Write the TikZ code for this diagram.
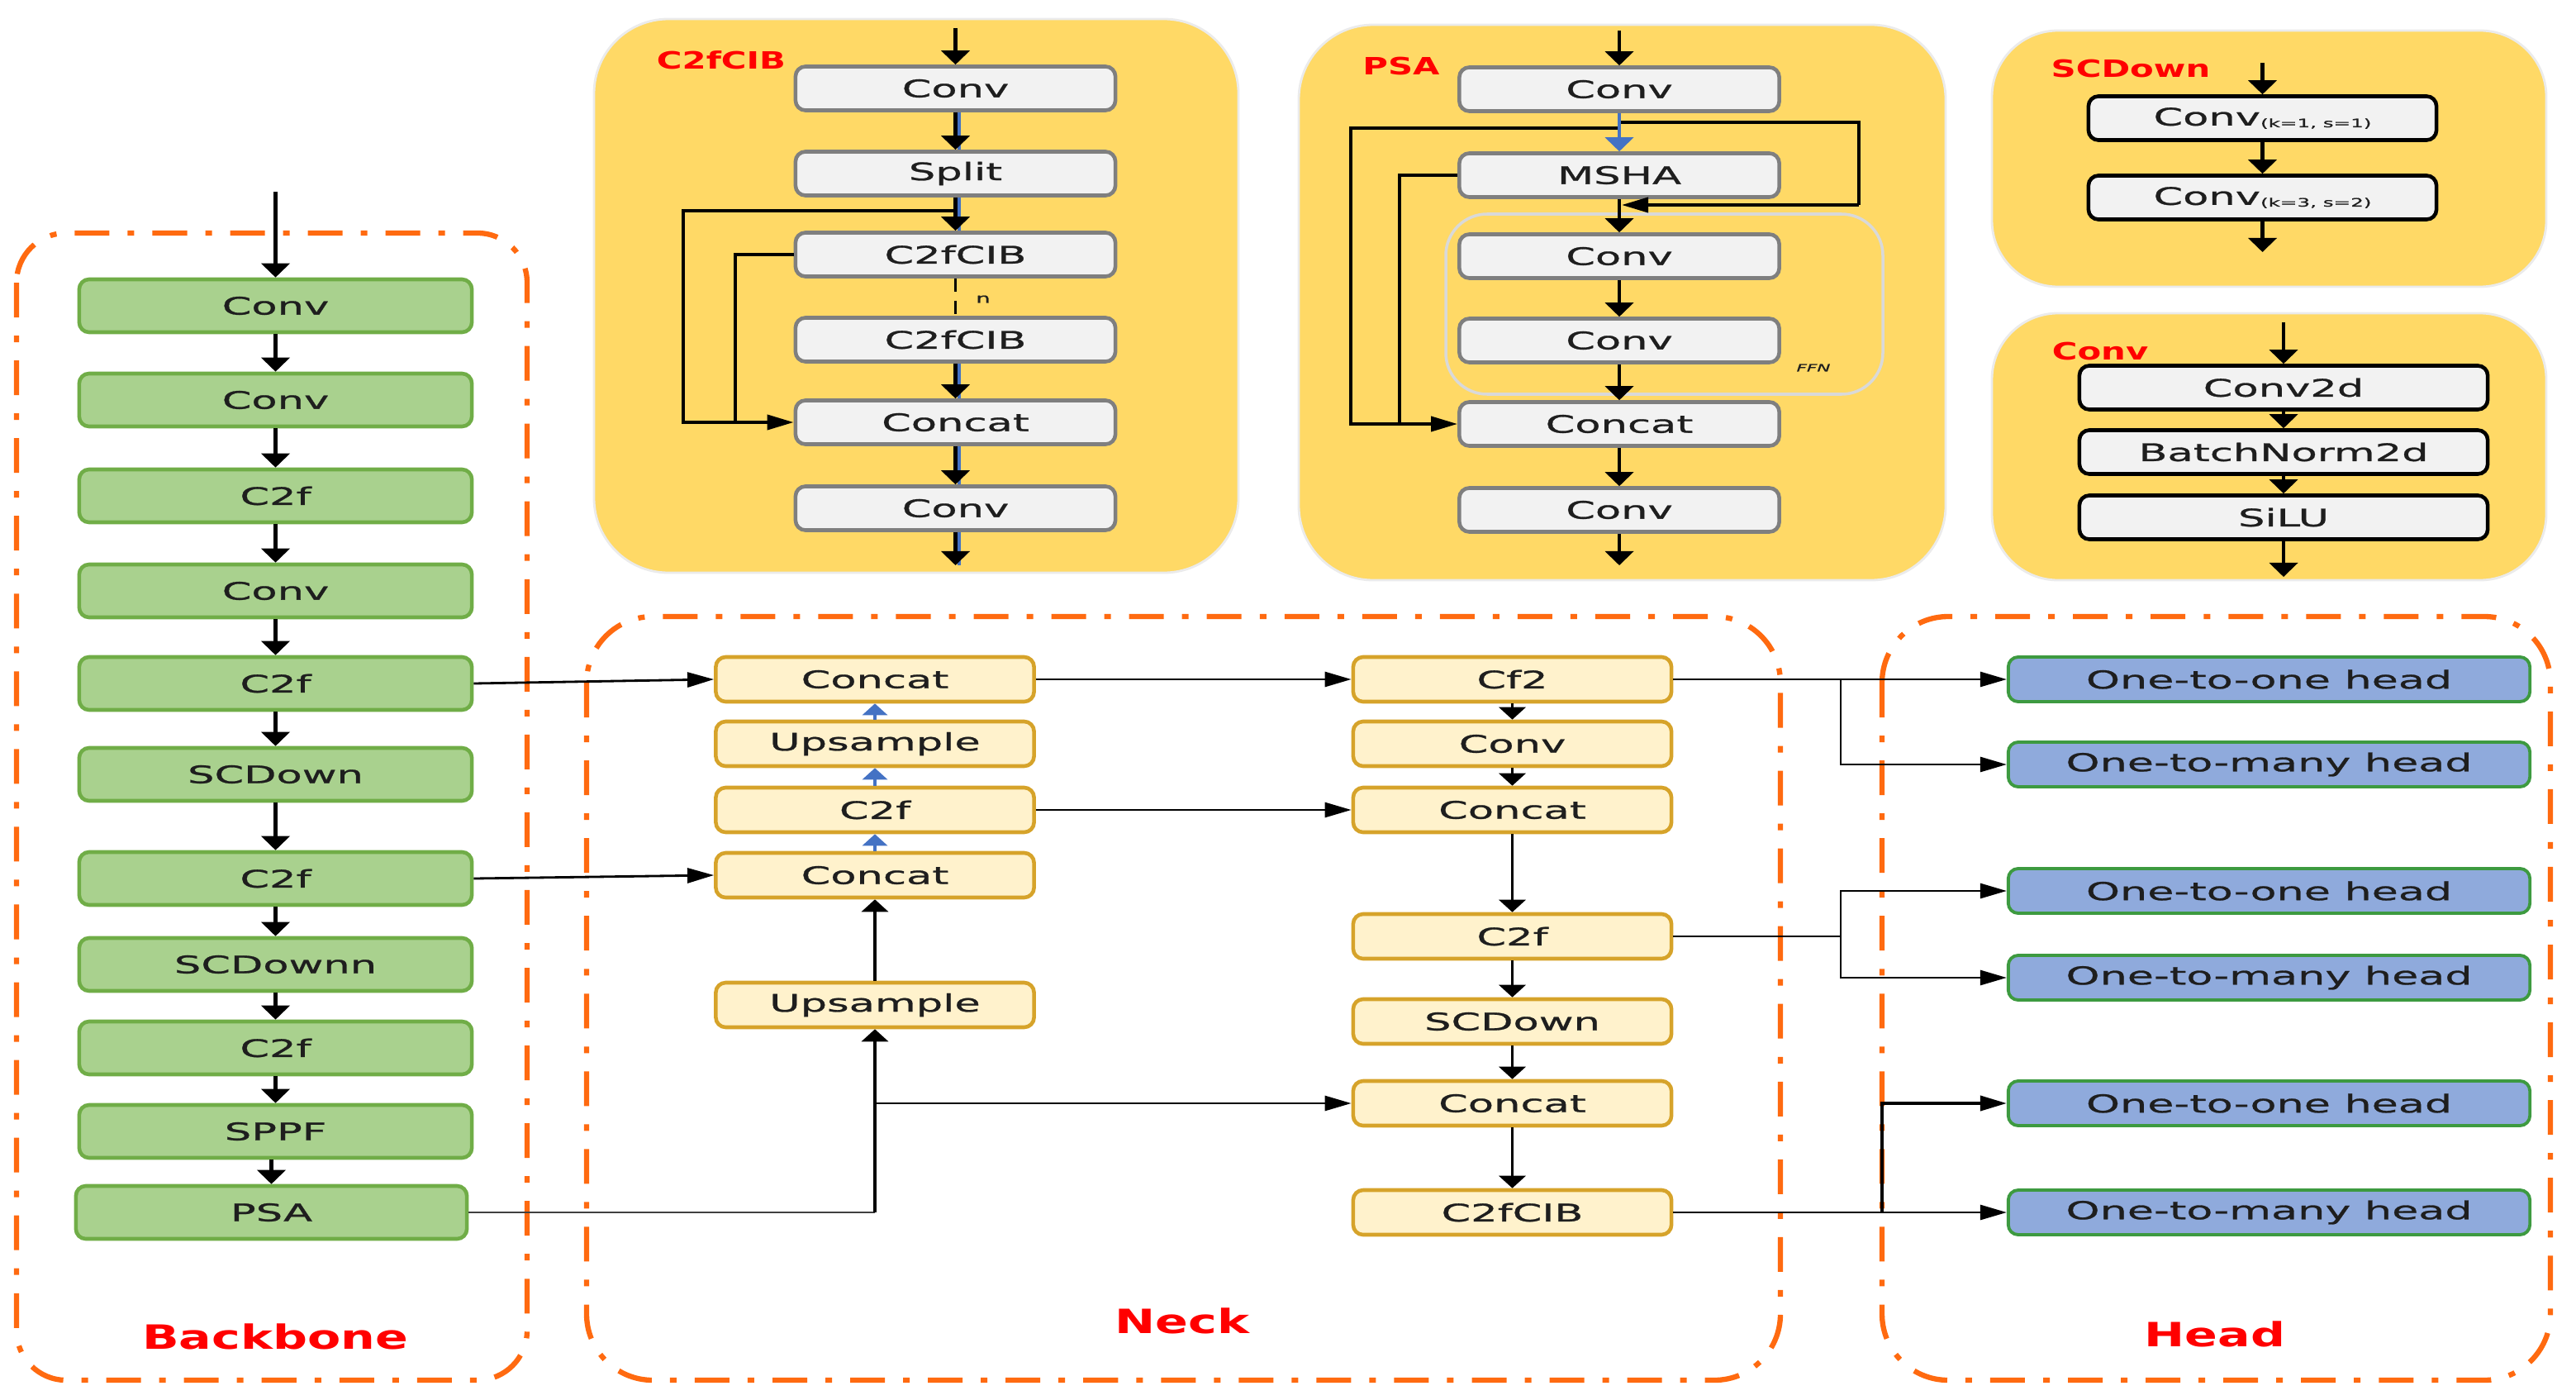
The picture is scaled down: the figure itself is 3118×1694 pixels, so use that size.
\documentclass[tikz,border=0pt]{standalone}
\usepackage{fontspec}
\setmainfont[FakeStretch=1.75,FakeBold=0.9]{DejaVu Sans}
\newfontfamily\labfont[FakeStretch=1.45]{DejaVu Sans}
\usetikzlibrary{arrows.meta}
\definecolor{bbfill}{HTML}{A9D18E}
\definecolor{bbdraw}{HTML}{70AD47}
\definecolor{nfill}{HTML}{FFF2CC}
\definecolor{ndraw}{HTML}{D6A32A}
\definecolor{hfill}{HTML}{8FAADC}
\definecolor{hdraw}{HTML}{3D9A40}
\definecolor{pfill}{HTML}{F2F2F2}
\definecolor{pdraw}{HTML}{7F7F7F}
\definecolor{panel}{HTML}{FFD966}
\definecolor{orng}{HTML}{FF6A10}
\definecolor{bluec}{HTML}{4472C4}
\definecolor{labred}{HTML}{FF0000}
\definecolor{txt}{HTML}{1E1E1E}
\definecolor{ffngray}{HTML}{D9D9D9}
\begin{document}
\begin{tikzpicture}[x=0.01cm,y=-0.01cm,
  box/.style={rounded corners=0.12cm, line width=1.3pt, align=center, inner sep=0pt, text=txt, font=\fontsize{8.3pt}{10pt}\selectfont},
  bbox/.style={box, fill=bbfill, draw=bbdraw, minimum width=4.75cm, minimum height=0.64cm},
  nbox/.style={box, fill=nfill, draw=ndraw, minimum width=3.85cm, minimum height=0.54cm},
  hbox/.style={box, fill=hfill, draw=hdraw, line width=1.1pt, minimum width=6.31cm, minimum height=0.54cm, font=\fontsize{8.5pt}{10pt}\selectfont},
  pbox/.style={box, fill=pfill, draw=pdraw, minimum width=3.87cm, minimum height=0.53cm},
  sbox/.style={box, fill=pfill, draw=black, line width=1.3pt, minimum width=4.21cm, minimum height=0.53cm},
  kbox/.style={box, fill=pfill, draw=black, line width=1.3pt, minimum width=4.94cm, minimum height=0.53cm},
  region/.style={draw=orng, line width=1.8pt, dash pattern=on 0.42cm off 0.22cm on 0.08cm off 0.22cm},
  panelbg/.style={fill=panel, draw=black!8, line width=0.8pt},
  lab/.style={text=labred, font=\labfont\bfseries\fontsize{11.5pt}{13pt}\selectfont},
  plab/.style={text=labred, font=\labfont\bfseries\fontsize{8.2pt}{10pt}\selectfont},
  va/.style={-{Triangle[width=0.34cm,length=0.17cm]}, line width=1.4pt},
  vn/.style={-{Triangle[width=0.32cm,length=0.15cm]}, line width=1.1pt},
  vb/.style={-{Triangle[width=0.3cm,length=0.14cm]}, line width=1.1pt, bluec},
  ha/.style={-{Triangle[width=0.18cm,length=0.32cm]}, line width=0.8pt},
  hl/.style={-{Triangle[width=0.18cm,length=0.32cm]}, line width=1.1pt},
  pl/.style={line width=1.1pt},
  bsh/.style={bluec, line width=1.1pt, transform canvas={xshift=1.3pt}}
]
\useasboundingbox (0,0) rectangle (3118,1694);

% ---------- dashed regions ----------
\draw[region, rounded corners=0.6cm] (20,282) rectangle (638,1670);
\draw[region, rounded corners=0.8cm] (710,746) rectangle (2155,1670);
\draw[region, rounded corners=0.8cm] (2278,746) rectangle (3087,1670);
\node[lab] (lbb) at (333,1617) {Backbone};
\node[lab] (lnk) at (1431,1598) {Neck};
\node[lab] (lhd) at (2681,1614) {Head};

% ---------- backbone ----------
\coordinate (bin) at (333.5,232);
\node[bbox] (b1) at (333.5,370) {Conv};
\node[bbox] (b2) at (333.5,484) {Conv};
\node[bbox] (b3) at (333.5,600) {C2f};
\node[bbox] (b4) at (333.5,715) {Conv};
\node[bbox] (b5) at (333.5,827) {C2f};
\node[bbox] (b6) at (333.5,937) {SCDown};
\node[bbox] (b7) at (333.5,1063) {C2f};
\node[bbox] (b8) at (333.5,1167) {SCDownn};
\node[bbox] (b9) at (333.5,1268) {C2f};
\node[bbox] (b10) at (333.5,1369) {SPPF};
\node[bbox, minimum width=4.73cm] (b11) at (328.5,1467) {PSA};
\draw[va] (bin) -- (b1.north);
\draw[va] (b1.south) -- (b2.north);
\draw[va] (b2.south) -- (b3.north);
\draw[va] (b3.south) -- (b4.north);
\draw[va] (b4.south) -- (b5.north);
\draw[va] (b5.south) -- (b6.north);
\draw[va] (b6.south) -- (b7.north);
\draw[va] (b7.south) -- (b8.north);
\draw[va] (b8.south) -- (b9.north);
\draw[va] (b9.south) -- (b10.north);
\draw[va] (b11.north |- b10.south) -- (b11.north);

% ---------- neck ----------
\node[nbox] (lc1) at (1059,822) {Concat};
\node[nbox] (lup1) at (1059,900) {Upsample};
\node[nbox] (lc2f) at (1059,980) {C2f};
\node[nbox] (lc2) at (1059,1059) {Concat};
\node[nbox] (lup2) at (1059,1216) {Upsample};
\node[nbox] (rcf2) at (1830.5,822) {Cf2};
\node[nbox] (rconv) at (1830.5,900) {Conv};
\node[nbox] (rcat1) at (1830.5,980) {Concat};
\node[nbox] (rc2f) at (1830.5,1133) {C2f};
\node[nbox] (rscd) at (1830.5,1236) {SCDown};
\node[nbox] (rcat2) at (1830.5,1335) {Concat};
\node[nbox] (rcib) at (1830.5,1467) {C2fCIB};

\draw[ha] (b5.east) -- (lc1.west);
\draw[ha] (b7.east) -- (lc2.west);
\draw[line width=0.8pt, black!75] (b11.east) -- (lup2.south |- b11.east);
\draw[vn] (lup2.south |- b11.east) -- (lup2.south);
\coordinate (jn) at (lup2.south |- rcat2.west);
\draw[ha] (jn) -- (rcat2.west);
\draw[vn] (lup2.north) -- (lc2.south);
\draw[vb] (lc2.north) -- (lc2f.south);
\draw[vb] (lc2f.north) -- (lup1.south);
\draw[vb] (lup1.north) -- (lc1.south);
\draw[ha] (lc1.east) -- (rcf2.west);
\draw[ha] (lc2f.east) -- (rcat1.west);
\draw[vn] (rcf2.south) -- (rconv.north);
\draw[vn] (rconv.south) -- (rcat1.north);
\draw[vn] (rcat1.south) -- (rc2f.north);
\draw[vn] (rc2f.south) -- (rscd.north);
\draw[vn] (rscd.south) -- (rcat2.north);
\draw[vn] (rcat2.south) -- (rcib.north);

% ---------- head ----------
\node[hbox] (h1) at (2746.5,822) {One-to-one head};
\node[hbox] (h2) at (2746.5,925) {One-to-many head};
\node[hbox] (h3) at (2746.5,1078) {One-to-one head};
\node[hbox] (h4) at (2746.5,1183) {One-to-many head};
\node[hbox] (h5) at (2746.5,1335) {One-to-one head};
\node[hbox] (h6) at (2746.5,1467) {One-to-many head};
\coordinate (j1) at (2228,822);
\coordinate (j2) at (2228,1133);
\coordinate (j3) at (2278,1467);
\draw[ha] (rcf2.east) -- (h1.west);
\draw[ha] (j1) |- (h2.west);
\draw[line width=0.8pt] (rc2f.east) -- (j2);
\draw[ha] (j2) |- (h3.west);
\draw[ha] (j2) |- (h4.west);
\draw[ha] (rcib.east) -- (h6.west);
\draw[ha, line width=1.1pt] (j3) |- (h5.west);

% ---------- C2fCIB panel ----------
\fill[panelbg, rounded corners=0.9cm] (719,23) rectangle (1499,693);
\node[plab] (t1) at (873,73) {C2fCIB};
\node[pbox] (c1) at (1156.5,107) {Conv};
\node[pbox] (c2) at (1156.5,210) {Split};
\node[pbox] (c3) at (1156.5,308) {C2fCIB};
\node[pbox] (c4) at (1156.5,411) {C2fCIB};
\node[pbox] (c5) at (1156.5,511) {Concat};
\node[pbox] (c6) at (1156.5,615) {Conv};
\coordinate (cin) at (1156.5,34);
\coordinate (cout) at (1156.5,684);
\coordinate (cs) at (1156.5,255);
\coordinate (cl1) at (827,255);
\coordinate (cl2) at (890,308);
\draw[bsh] (c1.south) -- (c2.north);
\draw[bsh] (c2.south) -- (c3.north);
\draw[bsh] (c4.south) -- (c5.north);
\draw[bsh] (c5.south) -- (c6.north);
\draw[bsh] (c6.south) -- (cout);
\draw[va, line width=1.2pt] (cin) -- (c1.north);
\draw[va, line width=1.2pt] (c1.south) -- (c2.north);
\draw[va, line width=1.2pt] (c2.south) -- (c3.north);
\draw[pl, dash pattern=on 0.16cm off 0.11cm] (c3.south) -- (c4.north);
\draw[va, line width=1.2pt] (c4.south) -- (c5.north);
\draw[va, line width=1.2pt] (c5.south) -- (c6.north);
\draw[va, line width=1.2pt] (c6.south) -- (cout);
\draw[hl] (cs) -- (cl1) |- (c5.west);
\draw[pl] (c3.west) -- (cl2) -- (cl2 |- c5.west);
\node[font=\fontsize{4.5pt}{5pt}\selectfont, text=txt] (nlab) at (1190,362) {n};

% ---------- PSA panel ----------
\fill[panelbg, rounded corners=0.9cm] (1572,30) rectangle (2355,702);
\draw[ffngray, line width=1pt, rounded corners=0.5cm] (1750,259) rectangle (2279,477);
\node[plab] (t2) at (1696,80) {PSA};
\node[pbox] (p1) at (1960,108) {Conv};
\node[pbox] (p2) at (1960,212) {MSHA};
\node[pbox] (p3) at (1960,310) {Conv};
\node[pbox] (p4) at (1960,412) {Conv};
\node[pbox] (p5) at (1960,513) {Concat};
\node[pbox] (p6) at (1960,617) {Conv};
\coordinate (pin) at (1960,37);
\coordinate (pout) at (1960,684);
\coordinate (ps1) at (1960,155);
\coordinate (pl1) at (1635,155);
\coordinate (ps2) at (1960,148);
\coordinate (pr1) at (2250,148);
\coordinate (pr2) at (2250,248);
\coordinate (pr3) at (1963,248);
\coordinate (pl2) at (1694,212);
\draw[va, line width=1.2pt] (pin) -- (p1.north);
\draw[pl] (ps2) -- (pr1) -- (pr2);
\draw[hl] (pr2) -- (pr3);
\draw[hl] (ps1) -- (pl1) |- (p5.west);
\draw[pl] (p2.west) -- (pl2) -- (pl2 |- p5.west);
\draw[-{Triangle[width=0.34cm,length=0.17cm]}, line width=1.2pt, bluec] (p1.south) -- (p2.north);
\draw[va, line width=1.2pt] (p2.south) -- (p3.north);
\draw[va, line width=1.2pt] (p3.south) -- (p4.north);
\draw[va, line width=1.2pt] (p4.south) -- (p5.north);
\draw[va, line width=1.2pt] (p5.south) -- (p6.north);
\draw[va, line width=1.2pt] (p6.south) -- (pout);
\node[font=\itshape\fontsize{3.5pt}{4pt}\selectfont, text=txt] (ffn) at (2195,445) {FFN};

% ---------- SCDown panel ----------
\fill[panelbg, rounded corners=0.8cm] (2411,37) rectangle (3082,347);
\node[plab] (t3) at (2579,83) {SCDown};
\node[sbox] (s1) at (2738.5,143) {Conv\raisebox{-0.6pt}{\fontsize{4pt}{5pt}\selectfont(k=1, s=1)}};
\node[sbox] (s2) at (2738.5,239) {Conv\raisebox{-0.6pt}{\fontsize{4pt}{5pt}\selectfont(k=3, s=2)}};
\coordinate (sin) at (2738.5,76);
\coordinate (sout) at (2738.5,305);
\draw[va, line width=1.2pt] (sin) -- (s1.north);
\draw[va, line width=1.2pt] (s1.south) -- (s2.north);
\draw[va, line width=1.2pt] (s2.south) -- (sout);

% ---------- Conv panel ----------
\fill[panelbg, rounded corners=0.8cm] (2411,379) rectangle (3082,702);
\node[plab] (t4) at (2542,425) {Conv};
\node[kbox] (k1) at (2764,469) {Conv2d};
\node[kbox] (k2) at (2764,547) {BatchNorm2d};
\node[kbox] (k3) at (2764,626) {SiLU};
\coordinate (kin) at (2764,390);
\coordinate (kout) at (2764,698);
\draw[va, line width=1.2pt] (kin) -- (k1.north);
\draw[va, line width=1.2pt] (k1.south) -- (k2.north);
\draw[va, line width=1.2pt] (k2.south) -- (k3.north);
\draw[va, line width=1.2pt] (k3.south) -- (kout);
\end{tikzpicture}
\end{document}
